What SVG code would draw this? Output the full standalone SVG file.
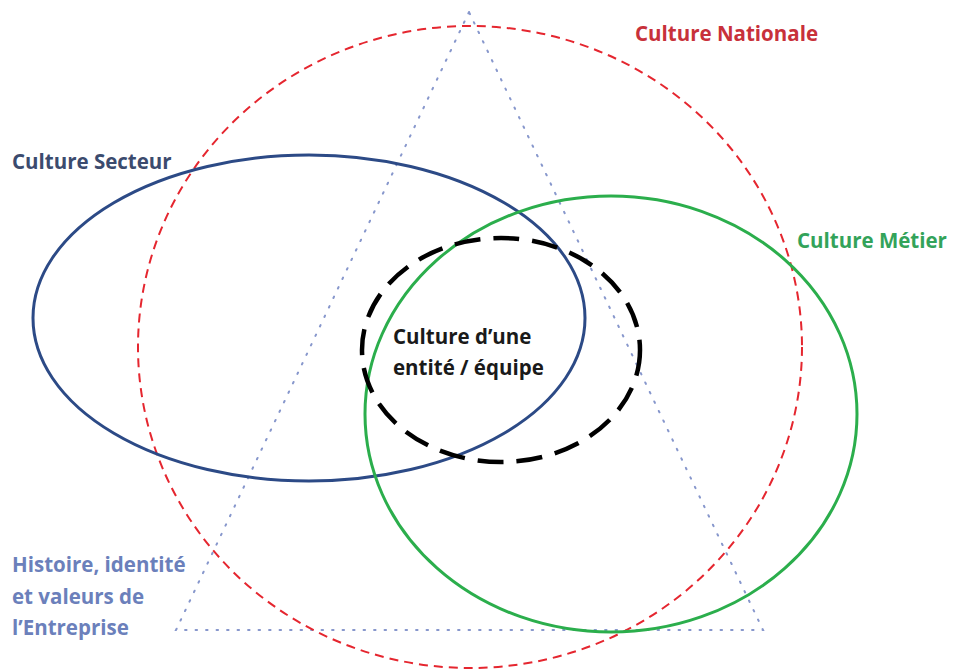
<svg xmlns="http://www.w3.org/2000/svg" width="953" height="670" viewBox="0 0 953 670">
<style>
text{font-family:"Open Sans","Liberation Sans",sans-serif;font-weight:700;font-size:20.5px}
.nat{fill:#c8313a}.sec{fill:#3b4b6e}.met{fill:#33a35a}.ent{fill:#1a1a1a}.his{fill:#6b80bb}
</style>
<rect width="953" height="670" fill="#ffffff"/>
<g id="connectors"></g>
<g id="triangle-entreprise"><polygon points="469,12 176,630 763,630" fill="none" stroke="#8797cc" stroke-width="2" stroke-dasharray="1.5 9" stroke-linecap="round"/></g>
<g id="culture-nationale"><ellipse cx="470" cy="347" rx="332" ry="321" fill="none" stroke="#e5262f" stroke-width="2" stroke-dasharray="9 6"/>
<text class="nat" x="635" y="41">Culture Nationale</text></g>
<g id="culture-secteur"><ellipse cx="309" cy="318" rx="276" ry="163" fill="none" stroke="#2c4a86" stroke-width="3"/>
<text class="sec" x="12" y="169">Culture Secteur</text></g>
<g id="culture-metier"><ellipse cx="611" cy="414" rx="246" ry="218" fill="none" stroke="#2bae4c" stroke-width="3"/>
<text class="met" x="797" y="248">Culture Métier</text></g>
<g id="culture-entite"><ellipse cx="501" cy="350" rx="139" ry="112" fill="none" stroke="#000000" stroke-width="4.5" stroke-dasharray="26 13"/>
<text class="ent" x="393" y="344">Culture d’une</text><text class="ent" x="393" y="375">entité / équipe</text></g>
<g id="histoire"><text class="his" x="12" y="572">Histoire, identité</text><text class="his" x="12" y="604">et valeurs de</text><text class="his" x="12" y="635">l’Entreprise</text></g>
</svg>
